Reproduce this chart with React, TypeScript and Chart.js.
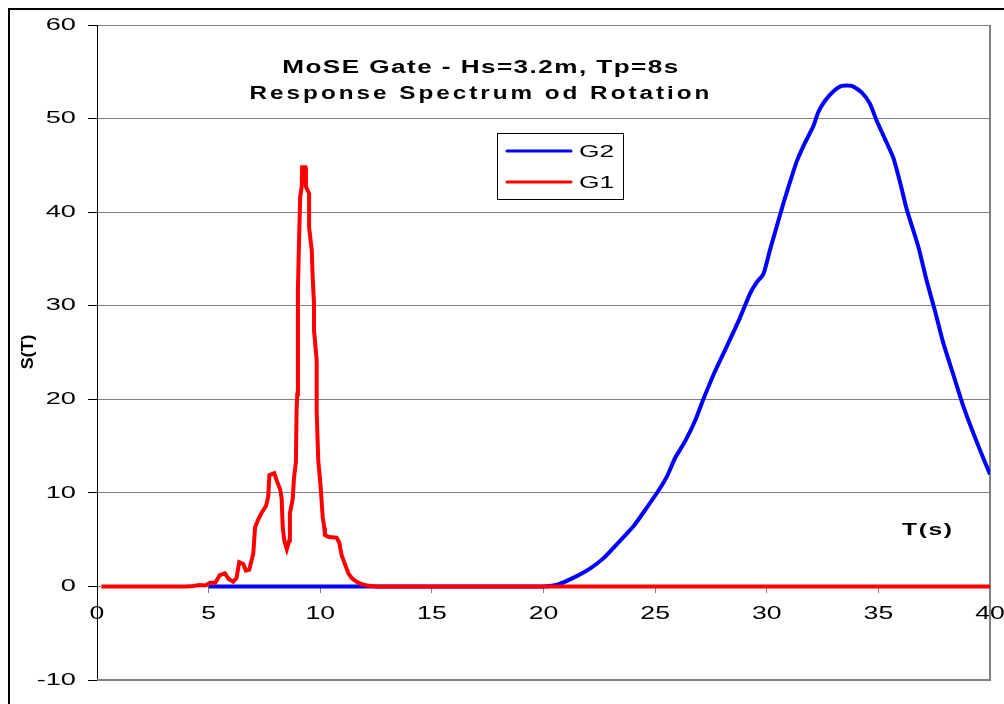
import React, { useEffect, useRef } from 'react';
import { Chart, registerables } from 'chart.js';

Chart.register(...registerables);

const FONT = "'Liberation Sans', Arial, Helvetica, sans-serif";

const TITLE_LINES = ['MoSE Gate - Hs=3.2m, Tp=8s', 'Response Spectrum od Rotation'];
const SERIES_NAMES = ['G2', 'G1'];
const SERIES_COLORS = ['#0000FF', '#FF0000'];
const X_LABEL = 'T(s)';
const Y_LABEL = 'S(T)';
const X_TICKS = [0, 5, 10, 15, 20, 25, 30, 35, 40];
const Y_TICKS = [-10, 0, 10, 20, 30, 40, 50, 60];

// G1 (red)
const g1T = [0.2, 2.0, 4.0, 4.3, 4.6, 4.85, 5.06, 5.3, 5.5, 5.73, 5.9, 6.1, 6.25, 6.37, 6.55, 6.67, 6.82, 7.0, 7.08, 7.23, 7.38, 7.57, 7.67, 7.72, 7.94, 8.05, 8.2, 8.27, 8.32, 8.39, 8.5, 8.61, 8.64, 8.77, 8.82, 8.91, 8.94, 8.97, 9.0, 9.04, 9.1, 9.17, 9.19, 9.33, 9.36, 9.5, 9.5, 9.62, 9.66, 9.72, 9.72, 9.84, 9.84, 9.91, 10.02, 10.11, 10.18, 10.21, 10.36, 10.74, 10.85, 10.96, 11.18, 11.26, 11.41, 11.63, 11.85, 12.1, 12.5, 20, 30, 40];
const g1S = [0, 0, 0, 0.05, 0.15, 0.1, 0.4, 0.4, 1.2, 1.4, 0.8, 0.5, 0.9, 2.6, 2.4, 1.7, 1.8, 3.5, 6.3, 7.2, 7.9, 8.6, 9.6, 11.9, 12.1, 11.3, 10.4, 9.4, 6.3, 4.9, 4.0, 4.9, 7.8, 9.4, 11.5, 13.3, 18.8, 20.5, 31.7, 35.9, 41.6, 42.7, 44.8, 44.8, 42.7, 42.0, 38.4, 35.9, 33.1, 30.2, 27.4, 24.2, 18.8, 13.5, 10.6, 7.4, 6.3, 5.5, 5.3, 5.2, 4.7, 3.3, 1.9, 1.4, 0.9, 0.5, 0.25, 0.1, 0, 0, 0, 0];

// G2 (blue)
const g2T = [5, 12, 19.4, 20, 20.59, 21.49, 22.08, 22.68, 23.28, 24.02, 24.62, 25.14, 25.52, 25.89, 26.34, 26.79, 27.16, 27.61, 28.2, 28.8, 29.25, 29.55, 29.85, 30.15, 30.45, 30.74, 31.04, 31.34, 31.71, 32.09, 32.31, 32.61, 32.98, 33.36, 33.81, 34.25, 34.62, 34.92, 35.3, 35.67, 35.97, 36.27, 36.79, 37.16, 37.54, 37.91, 38.36, 38.8, 39.25, 39.7, 40];
const g2S = [0, 0, 0, 0, 0.15, 1.1, 1.9, 3.0, 4.5, 6.4, 8.4, 10.2, 11.7, 13.7, 15.5, 17.7, 20.0, 22.6, 25.6, 28.7, 31.3, 32.5, 33.4, 36.0, 38.5, 40.9, 43.2, 45.4, 47.4, 49.2, 50.7, 51.9, 52.9, 53.5, 53.5, 52.8, 51.6, 49.8, 47.8, 45.8, 43.2, 40.3, 36.3, 32.7, 29.4, 26.0, 22.6, 19.3, 16.4, 13.7, 12.0];

function drawStretched(
  ctx: CanvasRenderingContext2D,
  text: string,
  x: number,
  y: number,
  font: string,
  sx: number,
  align: CanvasTextAlign,
  spacing = 0,
  baseline: CanvasTextBaseline = 'alphabetic',
  rot = 0
) {
  ctx.save();
  ctx.translate(x, y);
  if (rot) ctx.rotate(rot);
  ctx.scale(sx, 1);
  ctx.font = font;
  (ctx as any).letterSpacing = spacing + 'px';
  ctx.textAlign = align;
  ctx.textBaseline = baseline;
  ctx.fillStyle = '#000';
  ctx.fillText(text, 0, 0);
  ctx.restore();
}

const decorPlugin = {
  id: 'decor',
  beforeDraw(chart: any) {
    const ctx = chart.ctx;
    const proto = CanvasRenderingContext2D.prototype.fillText;
    ctx.fillText = function (text: string, x: number, y: number) {
      const sx = this.textAlign === 'right' ? 1.6 : 1.4;
      this.save();
      this.translate(x, y);
      this.scale(sx, 1);
      proto.call(this, text, 0, 0);
      this.restore();
    };
  },
  beforeDatasetsDraw(chart: any) {
    const ctx = chart.ctx;
    delete ctx.fillText;
    const { left, right, top, bottom } = chart.chartArea;
    ctx.save();
    ctx.strokeStyle = '#808080';
    ctx.lineWidth = 2;
    ctx.beginPath();
    ctx.moveTo(left, bottom);
    ctx.lineTo(right, bottom);
    ctx.lineTo(right, top);
    ctx.stroke();
    ctx.restore();
  },
  afterDraw(chart: any) {
    const ctx: CanvasRenderingContext2D = chart.ctx;
    delete (ctx as any).fillText;
    // outer chart border
    ctx.save();
    ctx.strokeStyle = '#000';
    ctx.lineWidth = 2;
    ctx.strokeRect(9, 9, 3000, 3000);
    ctx.restore();

    // title
    drawStretched(ctx, TITLE_LINES[0], 481, 73, `bold 18px ${FONT}`, 1.45, 'center', 1.0);
    drawStretched(ctx, TITLE_LINES[1], 481, 98.5, `bold 18px ${FONT}`, 1.35, 'center', 2.2);

    // axis labels
    drawStretched(ctx, X_LABEL, 902, 535, `bold 17px ${FONT}`, 1.45, 'left', 1.1);
    drawStretched(ctx, Y_LABEL, 28.5, 352, `bold 17px ${FONT}`, 1.05, 'center', 0, 'middle', -Math.PI / 2);

    // legend
    ctx.save();
    ctx.fillStyle = '#fff';
    ctx.fillRect(497, 133, 126, 66);
    ctx.strokeStyle = '#000';
    ctx.lineWidth = 1;
    ctx.strokeRect(497.5, 133.5, 126, 66);
    const rows = [151, 182];
    SERIES_NAMES.forEach((name, i) => {
      ctx.strokeStyle = SERIES_COLORS[i];
      ctx.lineWidth = 3;
      ctx.lineCap = 'round';
      ctx.beginPath();
      ctx.moveTo(507, rows[i]);
      ctx.lineTo(571, rows[i]);
      ctx.stroke();
    });
    ctx.restore();
    SERIES_NAMES.forEach((name, i) => {
      drawStretched(ctx, name, 579, rows[i] + 6, `17px ${FONT}`, 1.55, 'left', 0);
    });
  },
};

export default function App() {
  const canvasRef = useRef<HTMLCanvasElement | null>(null);

  useEffect(() => {
    if (!canvasRef.current) return;
    const chart = new Chart(canvasRef.current, {
      type: 'scatter',
      data: {
        datasets: [
          {
            label: SERIES_NAMES[1],
            data: g1T.map((t, i) => ({ x: t, y: g1S[i] })),
            borderColor: SERIES_COLORS[1],
            backgroundColor: SERIES_COLORS[1],
            borderWidth: 4,
            pointRadius: 0,
            showLine: true,
            tension: 0,
            fill: false,
          },
          {
            label: SERIES_NAMES[0],
            data: g2T.map((t, i) => ({ x: t, y: g2S[i] })),
            borderColor: SERIES_COLORS[0],
            backgroundColor: SERIES_COLORS[0],
            borderWidth: 4,
            pointRadius: 0,
            showLine: true,
            tension: 0.2,
            fill: false,
          },
        ],
      },
      options: {
        responsive: false,
        animation: false,
        events: [],
        layout: { padding: { left: 16, right: 14, top: 25, bottom: 24 } },
        plugins: {
          legend: { display: false },
          title: { display: false },
          tooltip: { enabled: false },
        },
        scales: {
          x: {
            type: 'linear',
            position: { y: 0 } as any,
            min: X_TICKS[0],
            max: X_TICKS[X_TICKS.length - 1],
            afterBuildTicks: (s: any) => {
              s.ticks = X_TICKS.map((v) => ({ value: v }));
            },
            afterFit: (s: any) => {
              s.paddingLeft = 0;
              s.paddingRight = 0;
              s.paddingTop = 0;
              s.paddingBottom = 0;
            },
            grid: {
              drawOnChartArea: false,
              drawTicks: true,
              tickLength: 6,
              color: '#808080',
              tickColor: '#808080',
              lineWidth: 1,
            },
            border: { display: true, color: '#808080', width: 1 },
            ticks: {
              color: '#000',
              font: { family: FONT, size: 19 },
              padding: 10,
              maxRotation: 0,
              autoSkip: false,
              callback: (v: any) => String(v),
            },
          },
          y: {
            type: 'linear',
            min: Y_TICKS[0],
            max: Y_TICKS[Y_TICKS.length - 1],
            afterBuildTicks: (s: any) => {
              s.ticks = Y_TICKS.map((v) => ({ value: v }));
            },
            afterFit: (s: any) => {
              s.width = 81;
              s.paddingTop = 0;
              s.paddingBottom = 0;
            },
            grid: { color: '#808080', tickColor: '#000', tickLength: 9, lineWidth: 1 },
            border: { color: '#000', width: 1 },
            ticks: {
              color: '#000',
              font: { family: FONT, size: 17 },
              padding: 12,
              autoSkip: false,
              callback: (v: any) => String(v),
            },
          },
        },
      },
      plugins: [decorPlugin as any],
    });
    return () => chart.destroy();
  }, []);

  return (
    <div style={{ position: 'fixed', left: 0, top: 0, width: 1004, height: 704, background: '#fff' }}>
      <canvas ref={canvasRef} width={1004} height={704} style={{ display: 'block' }} />
    </div>
  );
}
